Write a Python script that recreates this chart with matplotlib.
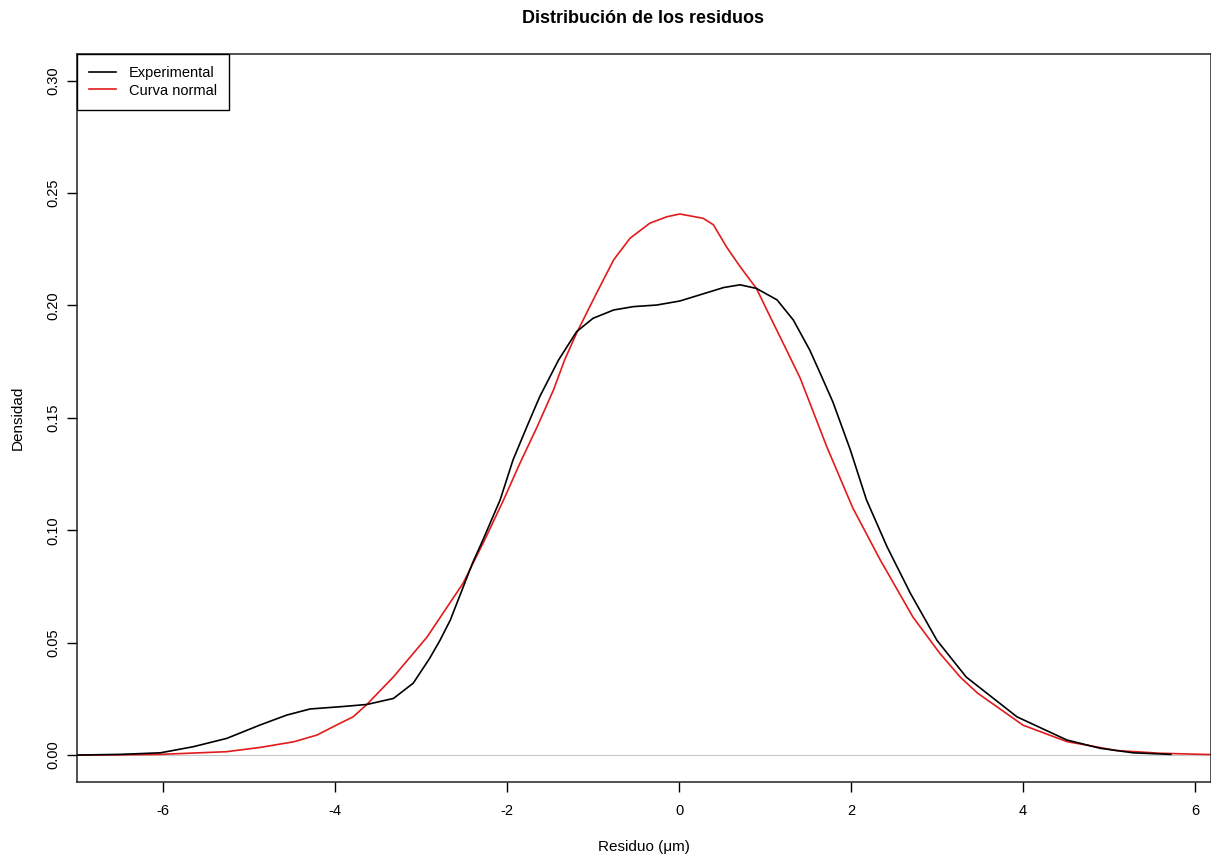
import matplotlib
matplotlib.use("Agg")
import matplotlib.pyplot as plt

plt.rcParams['font.family'] = ['Liberation Sans', 'DejaVu Sans']

# Curva experimental (densidad de los residuos)
x_exp = [-7.0, -6.5, -6.03, -5.65, -5.26, -4.87, -4.56, -4.29, -3.94, -3.63,
         -3.32, -3.09, -2.90, -2.78, -2.66, -2.4, -2.28, -2.08, -1.93, -1.77,
         -1.62, -1.40, -1.19, -1.00, -0.76, -0.53, -0.26, 0.01, 0.24, 0.52,
         0.71, 0.90, 1.14, 1.33, 1.52, 1.64, 1.79, 1.99, 2.18, 2.42, 2.69,
         3.0, 3.34, 3.93, 4.51, 4.90, 5.28, 5.72]
y_exp = [0.0, 0.0003, 0.0010, 0.0037, 0.0074, 0.0134, 0.0178, 0.0205, 0.0215,
         0.0225, 0.0252, 0.032, 0.043, 0.051, 0.060, 0.0855, 0.0957, 0.1135,
         0.1313, 0.146, 0.1594, 0.1758, 0.1884, 0.1943, 0.198, 0.1995, 0.2002,
         0.2020, 0.2047, 0.208, 0.2092, 0.2076, 0.2025, 0.1935, 0.1802, 0.170,
         0.157, 0.136, 0.1135, 0.0926, 0.072, 0.051, 0.0347, 0.017, 0.0067,
         0.003, 0.001, 0.0003]

# Curva normal
x_norm = [-7.0, -6.5, -6.03, -5.26, -4.87, -4.48, -4.21, -3.98, -3.79, -3.63,
          -3.32, -2.93, -2.51, -2.26, -2.04, -1.85, -1.65, -1.46, -1.33, -1.19,
          -0.96, -0.76, -0.57, -0.34, -0.14, 0.01, 0.28, 0.40, 0.55, 0.71,
          0.90, 1.06, 1.25, 1.41, 1.72, 2.02, 2.34, 2.72, 3.03, 3.27, 3.47,
          4.0, 4.51, 5.09, 5.6, 6.2]
y_norm = [0.0, 0.0001, 0.0003, 0.0015, 0.0034, 0.0059, 0.0089, 0.0134, 0.017,
          0.0225, 0.0348, 0.0525, 0.0765, 0.0957, 0.1135, 0.1298, 0.146,
          0.1624, 0.1758, 0.1878, 0.2054, 0.2203, 0.2299, 0.2366, 0.2395,
          0.2407, 0.2388, 0.2359, 0.2262, 0.2173, 0.2076, 0.1950, 0.1802,
          0.1676, 0.137, 0.110, 0.0868, 0.0614, 0.0454, 0.0347, 0.0276, 0.0133,
          0.006, 0.002, 0.0008, 0.0002]

xticks = [-6, -4, -2, 0, 2, 4, 6]
yticks = [0.00, 0.05, 0.10, 0.15, 0.20, 0.25, 0.30]

fig = plt.figure(figsize=(12.11, 8.59), dpi=100)
ax = fig.add_axes([0.0636, 0.0896, 0.9364, 0.8481])

ax.axhline(0, color='#c8c8c8', lw=0.8, zorder=1)
ax.plot(x_exp, y_exp, color='black', lw=1.2, label='Experimental', zorder=3,
        solid_joinstyle='round')
ax.plot(x_norm, y_norm, color='#e31a1c', lw=1.2, label='Curva normal', zorder=2,
        solid_joinstyle='round')

ax.set_xlim(-7.0, 6.186)
ax.set_ylim(-0.0120, 0.3121)
ax.set_xticks(xticks)
ax.set_xticklabels([f"{t:d}" for t in xticks])
ax.set_yticks(yticks)
ax.set_yticklabels([f"{t:.2f}" for t in yticks], rotation=90, va='center')
ax.tick_params(axis='both', labelsize=10.5, length=7, width=1)
ax.tick_params(axis='x', pad=9)
ax.tick_params(axis='y', pad=5)

for s in ax.spines.values():
    s.set_linewidth(1.1)
    s.set_color('#222222')

# titulo y etiquetas en posiciones fijas (como en R)
ax.text(0.4995, 1.0487, "Distribución de los residuos", transform=ax.transAxes,
        fontsize=13, fontweight='bold', ha='center', va='center')
ax.set_xlabel("Residuo (μm)", fontsize=11, va='center')
ax.set_ylabel("Densidad", fontsize=11, va='center')
ax.xaxis.set_label_coords(0.4995, -0.0892)
ax.yaxis.set_label_coords(-0.052, 0.5)

leg = ax.legend(loc='upper left', fontsize=10.5, frameon=True, fancybox=False,
                borderaxespad=0, framealpha=1, edgecolor='black',
                handlelength=1.8, handletextpad=0.9, borderpad=0.85,
                labelspacing=0.25)
leg.get_frame().set_linewidth(1.0)

fig.savefig("out.png", dpi=100)
